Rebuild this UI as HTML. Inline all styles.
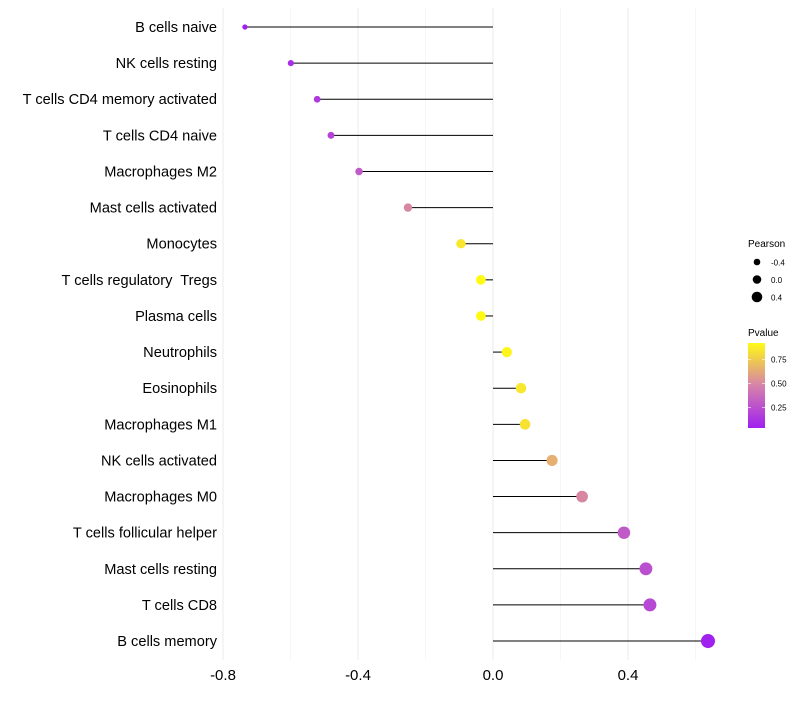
<!DOCTYPE html>
<html><head><meta charset="utf-8"><style>
body{margin:0;background:#fff;font-family:"Liberation Sans",sans-serif}
text{white-space:pre}
</style></head><body>
<svg id="c" width="800" height="700" xmlns="http://www.w3.org/2000/svg"></svg>
<script>
const categories=["B cells naive","NK cells resting","T cells CD4 memory activated","T cells CD4 naive","Macrophages M2","Mast cells activated","Monocytes","T cells regulatory  Tregs","Plasma cells","Neutrophils","Eosinophils","Macrophages M1","NK cells activated","Macrophages M0","T cells follicular helper","Mast cells resting","T cells CD8","B cells memory"];
const pearson=[-0.735,-0.599,-0.521,-0.48,-0.397,-0.252,-0.095,-0.036,-0.036,0.041,0.083,0.095,0.175,0.264,0.388,0.453,0.465,0.637];
const pvalue=[0.05,0.1,0.15,0.2,0.3,0.5,0.85,0.92,0.92,0.9,0.85,0.83,0.65,0.5,0.3,0.25,0.22,0.05];
const xTicks=[-0.8,-0.4,0.0,0.4];
const xTickLabels=["-0.8","-0.4","0.0","0.4"];
const xMinor=[-0.6,-0.2,0.2,0.6];
const sizeTicks=[-0.4,0.0,0.4];
const colorTicks=[0.25,0.5,0.75];

const svg=document.getElementById('c');
const NS="http://www.w3.org/2000/svg";
function mk(t,a,p){const e=document.createElementNS(NS,t);for(const k in a)e.setAttribute(k,a[k]);(p||svg).appendChild(e);return e;}
const X=v=>493+v*337.5;
const Y=i=>27+i*36.12;
const R=v=>5+3.2*v;
function col(p){const t=Math.max(0,Math.min(1,(p-0.04)/0.88));
  const stops=[[160,32,240],[214,130,170],[255,250,20]];
  let a,b,f;if(t<0.5){a=stops[0];b=stops[1];f=t/0.5}else{a=stops[1];b=stops[2];f=(t-0.5)/0.5}
  return `rgb(${a.map((c,i)=>Math.round(c+(b[i]-c)*f)).join(',')})`;}

xMinor.forEach(v=>{const l=mk('line',{x1:X(v),x2:X(v),y1:8,y2:660,stroke:'#f2f2f2','stroke-width':0.7});

});
xTicks.forEach((v,i)=>{const l=mk('line',{x1:X(v),x2:X(v),y1:8,y2:660,stroke:'#ebebeb','stroke-width':1});


const t=mk('text',{x:X(v),y:680,'text-anchor':'middle','font-size':15,fill:'#000'});t.textContent=xTickLabels[i];

});

categories.forEach((c,i)=>{
const t=mk('text',{x:217,y:Y(i)+5,'text-anchor':'end','font-size':14.6,fill:'#000'});t.textContent=c;


const l=mk('line',{x1:X(0),x2:X(pearson[i]),y1:Y(i),y2:Y(i),stroke:'#000','stroke-width':1});


const d=mk('circle',{cx:X(pearson[i]),cy:Y(i),r:R(pearson[i]),fill:col(pvalue[i])});


});

const lt=mk('text',{x:748,y:247,'font-size':10,fill:'#000'});lt.textContent='Pearson';


sizeTicks.forEach((v,i)=>{const y=262+i*17.5;
const c=mk('circle',{cx:757,cy:y,r:4.3+2.5*v,fill:'#000'});


const t=mk('text',{x:771,y:y+3.5,'font-size':8,fill:'#000'});t.textContent=v.toFixed(1);

});
const pt=mk('text',{x:748,y:336,'font-size':10,fill:'#000'});pt.textContent='Pvalue';


const defs=mk('defs',{});const g=mk('linearGradient',{id:'gr',x1:0,y1:1,x2:0,y2:0},defs);
[0,0.5,1].forEach(o=>mk('stop',{offset:o,'stop-color':col(0.04+o*0.88)},g));
const cb=mk('rect',{x:748,y:343,width:17,height:85,fill:'url(#gr)'});


colorTicks.forEach(v=>{const y=428-(v-0.04)/0.88*85;
mk('line',{x1:748,x2:751,y1:y,y2:y,stroke:'#fff','stroke-width':0.6});
mk('line',{x1:762,x2:765,y1:y,y2:y,stroke:'#fff','stroke-width':0.6});
const t=mk('text',{x:771,y:y+3,'font-size':8,fill:'#000'});t.textContent=v.toFixed(2);

});
</script>
</body></html>
